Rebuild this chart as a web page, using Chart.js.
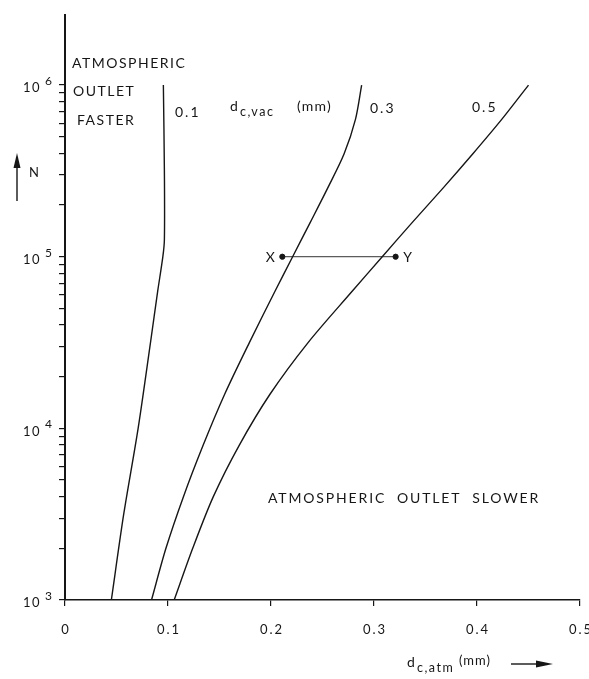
<!DOCTYPE html>
<html>
<head>
<meta charset="utf-8">
<script src="https://cdn.jsdelivr.net/npm/chart.js@4.4.1/dist/chart.umd.min.js"></script>
<style>
  html, body { margin: 0; padding: 0; background: #fff; }
  #wrap { width: 589px; height: 679px; }
</style>
</head>
<body>
<div id="wrap"><canvas id="nchart"></canvas></div>
<script>
// d_c,vac = 0.1 mm
const n01 = [1e3, 3.16e3, 1e4, 3.16e4, 6.3e4, 1e5, 1.26e5, 3.16e5, 1e6];
const d01 = [0.045, 0.057, 0.071, 0.083, 0.090, 0.095, 0.0965, 0.0965, 0.0955];
// d_c,vac = 0.3 mm
const n03 = [1e3, 2e3, 4e3, 7.94e3, 1.58e4, 3.16e4, 6.31e4, 1e5, 1.58e5, 2.51e5, 3.98e5, 6.31e5, 1e6];
const d03 = [0.084, 0.098, 0.115, 0.134, 0.155, 0.179, 0.204, 0.221, 0.238, 0.255, 0.271, 0.282, 0.288];
// d_c,vac = 0.5 mm
const n05 = [1e3, 2e3, 4e3, 7.94e3, 1.58e4, 3.16e4, 6.31e4, 1e5, 1.58e5, 2.51e5, 3.98e5, 6.31e5, 1e6];
const d05 = [0.106, 0.124, 0.144, 0.169, 0.199, 0.236, 0.279, 0.308, 0.337, 0.367, 0.396, 0.424, 0.450];
// points X and Y at N = 1e5
const xyNames = ['X', 'Y'];
const xyD = [0.211, 0.321];
const xyN = [1e5, 1e5];

const curveNames = ['0.1', '0.3', '0.5'];
const xTicks = [0, 0.1, 0.2, 0.3, 0.4, 0.5];
const xTickLabels = ['0', '0.1', '0.2', '0.3', '0.4', '0.5'];
const yDecades = [1e3, 1e4, 1e5, 1e6];
const yExponents = ['3', '4', '5', '6'];
const yMinorSteps = [2, 3, 4, 5, 6, 7, 8, 9];

const ink = '#161616';
const FONT = 'Lato, "Open Sans", sans-serif';

function pts(xs, ys) {
  return xs.map((x, i) => ({ x: x, y: ys[i] }));
}

function curve(d, n) {
  return {
    data: pts(d, n),
    borderColor: ink,
    borderWidth: 1.4,
    pointRadius: 0,
    tension: 0.3,
    fill: false
  };
}

const yTickList = [];
yDecades.forEach((dec, i) => {
  yTickList.push(dec);
  if (i < yDecades.length - 1) {
    yMinorSteps.forEach(m => yTickList.push(dec * m));
  }
});

function put(ctx, txt, x, y, size, align, spacing) {
  ctx.font = size + 'px ' + FONT;
  ctx.letterSpacing = (spacing == null ? 1.5 : spacing) + 'px';
  ctx.textAlign = align || 'left';
  ctx.fillText(txt, x, y);
}

function arrow(ctx, x1, y1, x2, y2, head, half) {
  const ang = Math.atan2(y2 - y1, x2 - x1);
  ctx.beginPath();
  ctx.moveTo(x1, y1);
  ctx.lineTo(x2 - Math.cos(ang) * head * 0.6, y2 - Math.sin(ang) * head * 0.6);
  ctx.stroke();
  ctx.beginPath();
  ctx.moveTo(x2, y2);
  ctx.lineTo(x2 - Math.cos(ang) * head - Math.sin(ang) * half, y2 - Math.sin(ang) * head + Math.cos(ang) * half);
  ctx.lineTo(x2 - Math.cos(ang) * head + Math.sin(ang) * half, y2 - Math.sin(ang) * head - Math.cos(ang) * half);
  ctx.closePath();
  ctx.fill();
}

const textPlugin = {
  id: 'textPlugin',
  afterDraw(chart) {
    const ctx = chart.ctx;
    const xs = chart.scales.x, ys = chart.scales.y;
    ctx.save();
    ctx.fillStyle = ink;
    ctx.strokeStyle = ink;
    ctx.textBaseline = 'middle';

    // y decade labels 10^n
    yDecades.forEach((v, i) => {
      const py = ys.getPixelForValue(v);
      put(ctx, '10', 41, py + 3, 13, 'right', 1.5);
      put(ctx, yExponents[i], 45, py - 4, 12, 'left', 0);
    });

    // x tick labels
    xTicks.forEach((v, i) => {
      put(ctx, xTickLabels[i], xs.getPixelForValue(v) + 1, 630, 13, 'center', 2);
    });

    // region notes
    put(ctx, 'ATMOSPHERIC', 72, 63, 14, 'left', 1.5);
    put(ctx, 'OUTLET', 73, 91, 14, 'left', 1.5);
    put(ctx, 'FASTER', 77, 120, 14, 'left', 1.5);
    put(ctx, 'ATMOSPHERIC  OUTLET  SLOWER', 268, 498, 14, 'left', 1.85);

    // curve labels
    put(ctx, curveNames[0], 175, 112, 14, 'left', 2);
    put(ctx, curveNames[1], 370, 108, 14, 'left', 2);
    put(ctx, curveNames[2], 472, 107, 14, 'left', 2);
    put(ctx, 'd', 230, 106, 14, 'left', 0);
    put(ctx, 'c,vac', 240, 112, 12.5, 'left', 1.5);
    put(ctx, '(mm)', 297, 106, 14, 'left', 1.2);

    // X and Y point names
    put(ctx, xyNames[0], xs.getPixelForValue(xyD[0]) - 12, ys.getPixelForValue(xyN[0]) + 1, 14, 'center', 0);
    put(ctx, xyNames[1], xs.getPixelForValue(xyD[1]) + 12, ys.getPixelForValue(xyN[1]) + 1, 14, 'center', 0);

    // y axis name
    put(ctx, 'N', 29, 173, 13, 'left', 0);
    ctx.lineWidth = 1.4;
    arrow(ctx, 17, 201, 17, 153, 15, 3.5);

    // x axis name
    put(ctx, 'd', 407, 662, 14, 'left', 0);
    put(ctx, 'c,atm', 417, 668, 12.5, 'left', 1.5);
    put(ctx, '(mm)', 459, 661, 13, 'left', 1);
    ctx.lineWidth = 1.4;
    arrow(ctx, 511, 664, 553, 664, 17, 3.5);

    ctx.restore();
  }
};

const ctx = document.getElementById('nchart').getContext('2d');
new Chart(ctx, {
  type: 'line',
  data: {
    datasets: [
      curve(d01, n01),
      curve(d03, n03),
      curve(d05, n05),
      {
        data: pts(xyD, xyN),
        borderColor: '#333',
        borderWidth: 1,
        pointRadius: 2.6,
        pointBackgroundColor: ink,
        pointBorderColor: ink,
        tension: 0,
        fill: false
      }
    ]
  },
  options: {
    responsive: true,
    maintainAspectRatio: false,
    animation: false,
    layout: { padding: { left: 0, right: 9, top: 15, bottom: 0 } },
    plugins: { legend: { display: false }, tooltip: { enabled: false } },
    scales: {
      x: {
        type: 'linear',
        min: 0,
        max: 0.5,
        afterBuildTicks: s => { s.ticks = xTicks.map(v => ({ value: v })); },
        afterFit: s => { s.height = 79; },
        ticks: { display: false },
        grid: { drawOnChartArea: false, drawTicks: true, tickLength: 6, color: ink, lineWidth: 1.2 },
        border: { display: true, color: ink, width: 1.6 }
      },
      y: {
        type: 'logarithmic',
        min: 1e3,
        max: 2.56e6,
        afterBuildTicks: s => { s.ticks = yTickList.map(v => ({ value: v })); },
        afterFit: s => { s.width = 65; },
        ticks: { display: false },
        grid: { drawOnChartArea: false, drawTicks: true, tickLength: 6, color: ink, lineWidth: 1.2 },
        border: { display: true, color: ink, width: 2 }
      }
    }
  },
  plugins: [textPlugin]
});
</script>
</body>
</html>
